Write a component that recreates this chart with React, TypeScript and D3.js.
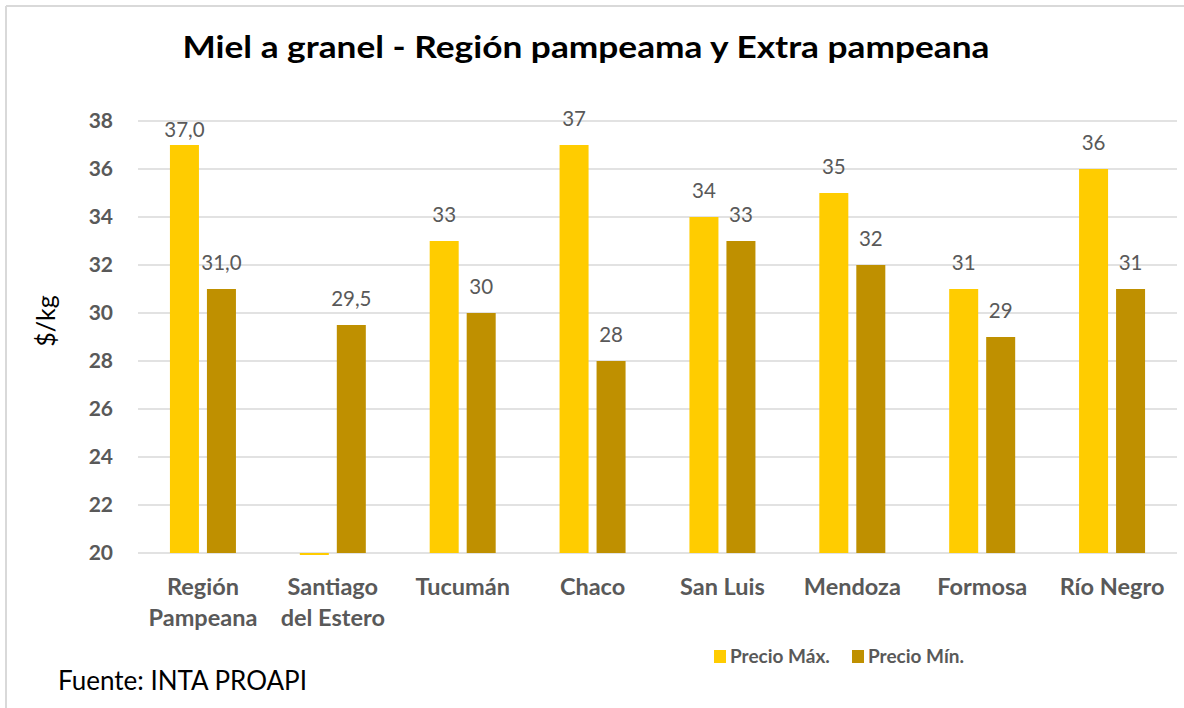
import React from "react";
import * as d3 from "d3";

const categories: string[][] = [
  ["Región", "Pampeana"],
  ["Santiago", "del Estero"],
  ["Tucumán"],
  ["Chaco"],
  ["San Luis"],
  ["Mendoza"],
  ["Formosa"],
  ["Río Negro"],
];
const seriesNames = ["Precio Máx.", "Precio Mín."];
const precioMax: (number | null)[] = [37, null, 33, 37, 34, 35, 31, 36];
const precioMin: (number | null)[] = [31, 29.5, 30, 28, 33, 32, 29, 31];
const labelsMax = ["37,0", "", "33", "37", "34", "35", "31", "36"];
const labelsMin = ["31,0", "29,5", "30", "28", "33", "32", "29", "31"];
const yTicks = [20, 22, 24, 26, 28, 30, 32, 34, 36, 38];
const colors = ["#FFCC00", "#BF9000"];

const W = 1184;
const H = 708;
const FONT = "Lato, 'Open Sans', sans-serif";
const GRAY = "#595959";

export default function App() {
  const x = d3.scaleBand<number>().domain(d3.range(categories.length)).range([138, 1177]).padding(0);
  const y = d3.scaleLinear().domain([20, 38]).range([553, 121]);
  const groupW = 66;
  const sub = d3.scaleBand<number>().domain([0, 1]).range([-groupW / 2, groupW / 2]).paddingInner(0.216);
  const series = [precioMax, precioMin];
  const labels = [labelsMax, labelsMin];

  return (
    <svg width={W} height={H} style={{ position: "absolute", left: 0, top: 0, background: "#fff" }} fontFamily={FONT}>
      <rect x={0} y={0} width={W} height={H} fill="#fff" />
      <line x1={6} y1={6} x2={W} y2={6} stroke="#D9D9D9" strokeWidth={2} />
      <line x1={6} y1={6} x2={6} y2={H} stroke="#D9D9D9" strokeWidth={2} />

      <text x={586} y={58} textAnchor="middle" fontSize={30} fontWeight="bold" fill="#000" textLength={807} lengthAdjust="spacingAndGlyphs">
        Miel a granel - Región pampeama y Extra pampeana
      </text>

      {yTicks.map((t) => (
        <g key={t}>
          <line x1={138} x2={1177} y1={y(t)} y2={y(t)} stroke="#D9D9D9" strokeWidth={1.5} />
          <text x={113} y={y(t) + 7} textAnchor="end" fontSize={21} fontWeight="bold" fill={GRAY}>
            {t}
          </text>
        </g>
      ))}

      <text transform={`translate(55,321) rotate(-90)`} textAnchor="middle" fontSize={25} fill="#000">
        $/kg
      </text>

      {categories.map((c, i) => {
        const cx = (x(i) as number) + x.bandwidth() / 2;
        return (
          <g key={i}>
            {series.map((s, si) => {
              const v = s[i];
              const bx = cx + (sub(si) as number);
              if (v === null) {
                return <rect key={si} x={bx} y={y(20)} width={sub.bandwidth()} height={2} fill={colors[si]} />;
              }
              const special = i === 0 && si === 0;
              return (
                <g key={si}>
                  <rect x={bx} y={y(v)} width={sub.bandwidth()} height={y(20) - y(v)} fill={colors[si]} />
                  {labels[si][i] && (
                    <text x={bx + sub.bandwidth() / 2} y={y(v) - (special ? 8 : 19)} textAnchor="middle" fontSize={20.5} fill={GRAY}>
                      {labels[si][i]}
                    </text>
                  )}
                </g>
              );
            })}
            {c.map((line, li) => (
              <text key={li} x={cx} y={595 + li * 31} textAnchor="middle" fontSize={23.5} fontWeight="bold" fill={GRAY}>
                {line}
              </text>
            ))}
          </g>
        );
      })}

      {seriesNames.map((n, i) => {
        const lx = i === 0 ? 714 : 852;
        return (
          <g key={n}>
            <rect x={lx} y={650} width={12} height={13} fill={colors[i]} />
            <text x={lx + 16} y={663} fontSize={19} fontWeight="bold" fill={GRAY}>
              {n}
            </text>
          </g>
        );
      })}

      <text x={58} y={690} fontSize={26} fill="#000" textLength={249} lengthAdjust="spacingAndGlyphs">
        Fuente: INTA PROAPI
      </text>
    </svg>
  );
}
